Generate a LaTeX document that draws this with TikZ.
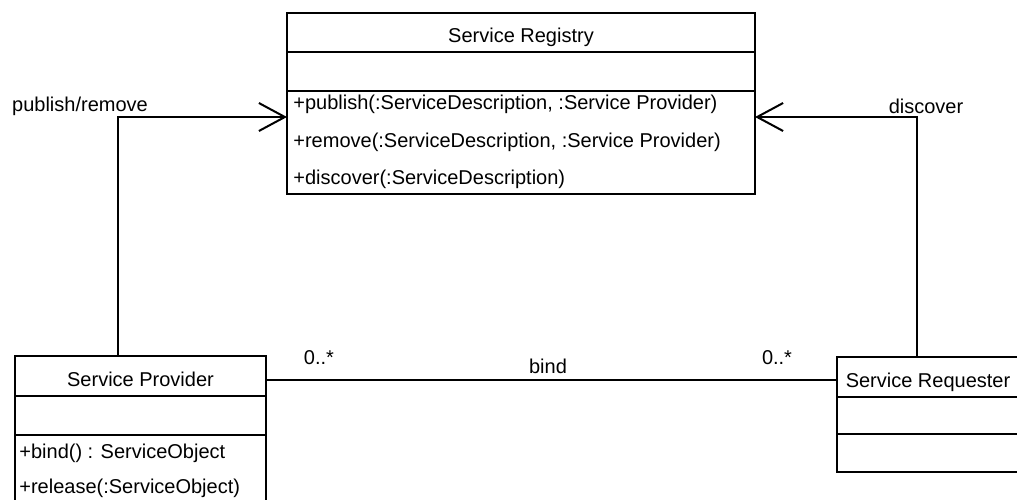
\documentclass[tikz,border=0pt]{standalone}
\usepackage{fontspec}
\setmainfont{Liberation Sans}
\usetikzlibrary{
    arrows.meta,
    positioning
}

\tikzset{
    part/.style={draw, line width=1pt, inner sep=0pt, outer sep=0pt, anchor=north, text height=10pt, text depth=0pt},
    row/.style={anchor=west, inner sep=0pt},
    lbl/.style={inner sep=0pt},
    assoc/.style={line width=1pt},
    navarrow/.style={assoc, -{Straight Barb[length=13pt, width=14pt, line width=1pt]}}
}

\begin{document}
\begin{tikzpicture}[x=0.5pt, y=-0.5pt]
                        \useasboundingbox (0, 0) rectangle (1017, 499);
                        \clip (0, 0) rectangle (1017, 499);

                        % registry
                        \node[part, minimum width=234pt, minimum height=19.5pt] (regtitle) at (521, 13) {Service Registry};
                        \node[part, minimum width=234pt, minimum height=19.5pt, below=0pt of regtitle] (regattr) {};
                        \node[part, minimum width=234pt, minimum height=51.5pt, below=0pt of regattr] (regops) {};
                        \node[row] (regpub) at (293, 104) {+publish(:ServiceDescription, :Service Provider)};
                        \node[row] (regrem) at (293, 142) {+remove(:ServiceDescription, :Service Provider)};
                        \node[row] (regdisc) at (293, 179) {+discover(:ServiceDescription)};

                        % provider
                        \node[part, minimum width=125.5pt, minimum height=20pt] (provtitle) at (140.5, 356) {Service Provider};
                        \node[part, minimum width=125.5pt, minimum height=19.5pt, below=0pt of provtitle] (provattr) {};
                        \node[part, minimum width=125.5pt, minimum height=40pt, below=0pt of provattr] (provops) {};
                        \node[row] (provbind) at (19, 453) {+bind() : ServiceObject};
                        \node[row] (provrel) at (19, 488) {+release(:ServiceObject)};

                        % requester
                        \node[part, minimum width=91pt, minimum height=20pt] (reqtitle) at (928, 357) {Service Requester};
                        \node[part, minimum width=91pt, minimum height=18.5pt, below=0pt of reqtitle] (reqattr) {};
                        \node[part, minimum width=91pt, minimum height=19pt, below=0pt of reqattr] (reqops) {};

                        % connectors
                        \draw[navarrow] ([xshift=-11.25pt]provtitle.north) |- ([yshift=-13pt]regops.north west);
                        \draw[navarrow] ([xshift=-5.5pt]reqtitle.north) |- ([yshift=-13pt]regops.north east);
                        \draw[assoc] ([yshift=-2pt]provtitle.east) -- ([yshift=-2pt]provtitle.east -| reqtitle.west);

                        \node[lbl] (lblpub) at (80, 106) {publish/remove};
                        \node[lbl] (lbldisc) at (926, 106) {discover};
                        \node[lbl] (lblbind) at (548, 366) {bind};
                        \node[lbl] (multprov) at (319, 358) {0..*};
                        \node[lbl] (multreq) at (777, 358) {0..*};
                    \end{tikzpicture}
\end{document}
